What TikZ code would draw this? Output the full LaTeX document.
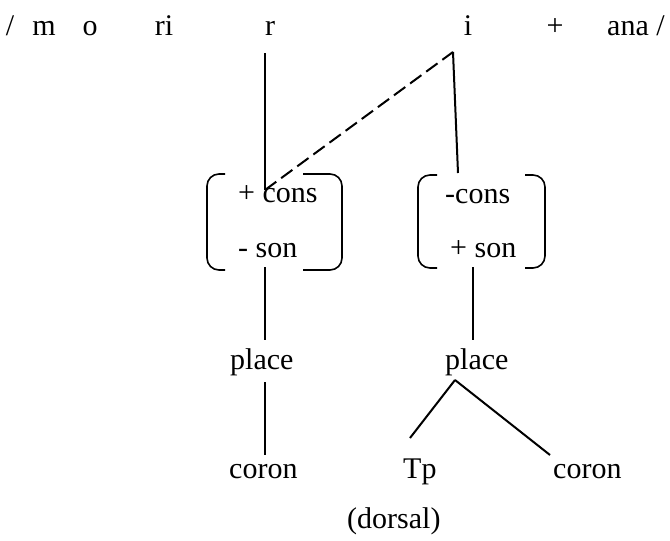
\documentclass[tikz,border=0pt]{standalone}
\usepackage{fontspec}
\setmainfont{Liberation Serif}
\begin{document}
\begin{tikzpicture}[x=1pt,y=-1pt,
  txt/.style={inner sep=0pt, anchor=base, font=\fontsize{30}{36}\selectfont},
  txtw/.style={txt, anchor=base west},
  ln/.style={line width=2pt},
  dsh/.style={ln, dash pattern=on 14pt off 6pt},
  brk/.style={line width=1.6pt, rounded corners=12pt}]
\useasboundingbox (0,0) rectangle (670,541);
% top row
\node[txt] (sl1) at (10,35) {/};
\node[txt] (m) at (44,35) {m};
\node[txt] (o) at (90,35) {o};
\node[txt] (ri) at (164,35) {ri};
\node[txt] (r) at (270,35) {r};
\node[txt] (i) at (468,35) {i};
\node[txt] (plus) at (555,35) {+};
\node[txtw] (ana) at (607,35) {ana /};
% feature matrices
\node[txtw] (pcons) at (238,202) {+ cons};
\node[txtw] (mson) at (238,257) {- son};
\node[txtw] (mcons) at (445,203) {-cons};
\node[txtw] (pson) at (450,257) {+ son};
% lower nodes
\node[txtw] (placeL) at (230,369) {place};
\node[txtw] (placeR) at (445,369) {place};
\node[txtw] (coronL) at (229,478) {coron};
\node[txtw] (Tp) at (403,478) {Tp};
\node[txtw] (coronR) at (553,478) {coron};
\node[txtw] (dorsal) at (347,528) {(dorsal)};
% connector ends
\coordinate (rtop) at (265,53);
\coordinate (jn) at (265,190);
\coordinate (itop) at (453,52);
\coordinate (ibot) at (458,173);
\coordinate (mLbot) at (265,267);
\coordinate (plLtop) at (265,340);
\coordinate (plLbot) at (265,382);
\coordinate (coLtop) at (265,455);
\coordinate (mRbot) at (473,267);
\coordinate (plRtop) at (473,340);
\coordinate (plRbot) at (455,380);
\coordinate (TpTop) at (410,438);
\coordinate (coRtop) at (550,455);
% connectors
\draw[ln] (rtop) -- (jn);
\draw[dsh] (jn) -- (itop);
\draw[ln] (itop) -- (ibot);
\draw[ln] (mLbot) -- (plLtop);
\draw[ln] (plLbot) -- (coLtop);
\draw[ln] (mRbot) -- (plRtop);
\draw[ln] (plRbot) -- (TpTop);
\draw[ln] (plRbot) -- (coRtop);
% brackets
\draw[brk] (225,174) -- (207,174) -- (207,270) -- (225,270);
\draw[brk] (303,174) -- (342,174) -- (342,270) -- (303,270);
\draw[brk] (437,175) -- (418,175) -- (418,268) -- (437,268);
\draw[brk] (525,175) -- (545,175) -- (545,268) -- (525,268);
\end{tikzpicture}
\end{document}
